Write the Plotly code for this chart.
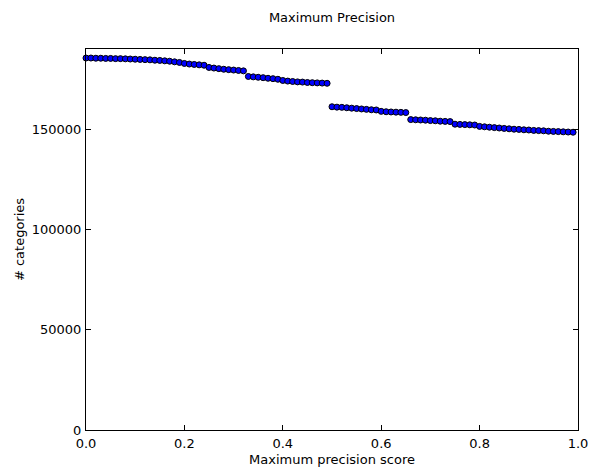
import plotly.graph_objects as go

scores = [i / 100 for i in range(100)]
categories = [
    185500, 185500, 185400, 185400, 185300, 185300, 185200, 185200, 185100, 185000,
    184900, 184800, 184700, 184600, 184400, 184300, 184100, 183900, 183600, 183300,
    182800, 182500, 182300, 182100, 181900,
    180800, 180500, 180200, 179900, 179700, 179500, 179300, 179100,
    176300, 176100, 175900, 175700, 175400, 175200, 174900, 174300, 174000, 173800,
    173600, 173500, 173300, 173200, 173100, 173000, 172900,
    161200, 161000, 160900, 160700, 160500, 160300, 160100, 159900, 159700, 159600,
    158900, 158700, 158600, 158500, 158400, 158300,
    154800, 154700, 154600, 154500, 154300, 154200, 154000, 153900, 153800,
    152500, 152400, 152300, 152200, 152100,
    151400, 151200, 151000, 150800, 150600, 150400, 150200, 150000, 149900, 149700,
    149600, 149400, 149300, 149200, 149000, 148900, 148800, 148700, 148600, 148500,
]
x_ticks = [0.0, 0.2, 0.4, 0.6, 0.8, 1.0]
x_tick_labels = ["0.0", "0.2", "0.4", "0.6", "0.8", "1.0"]
y_ticks = [0, 50000, 100000, 150000]
y_tick_labels = ["0", "50000", "100000", "150000"]

font = dict(family="DejaVu Sans", size=13, color="black")

fig = go.Figure()
fig.add_trace(go.Scatter(
    x=scores, y=categories, mode="markers",
    marker=dict(symbol="circle", size=6, color="#0000ff",
                line=dict(color="black", width=1)),
    showlegend=False, cliponaxis=False,
))

axis_common = dict(
    showline=True, linecolor="black", linewidth=1, mirror="ticks",
    ticks="inside", ticklen=5, tickwidth=1, tickcolor="black",
    showgrid=False, zeroline=False, tickfont=font, automargin=False,
)

fig.update_layout(
    width=597, height=472,
    margin=dict(l=86, r=19, t=49, b=42),
    paper_bgcolor="white", plot_bgcolor="white",
    font=font,
    title=dict(text="Maximum Precision", x=0.5, xref="paper", y=1 - 17 / 472,
               yanchor="middle", xanchor="center",
               font=dict(family="DejaVu Sans", size=13, color="black")),
    xaxis=dict(range=[0, 1], tickvals=x_ticks, ticktext=x_tick_labels,
               ticklabelstandoff=1,
               title=dict(text="Maximum precision score", standoff=5, font=font),
               **axis_common),
    yaxis=dict(range=[0, 190000], tickvals=y_ticks, ticktext=y_tick_labels,
               ticklabelstandoff=1,
               title=dict(text="# categories", standoff=4, font=font),
               **axis_common),
)

fig.write_html("out.html")
